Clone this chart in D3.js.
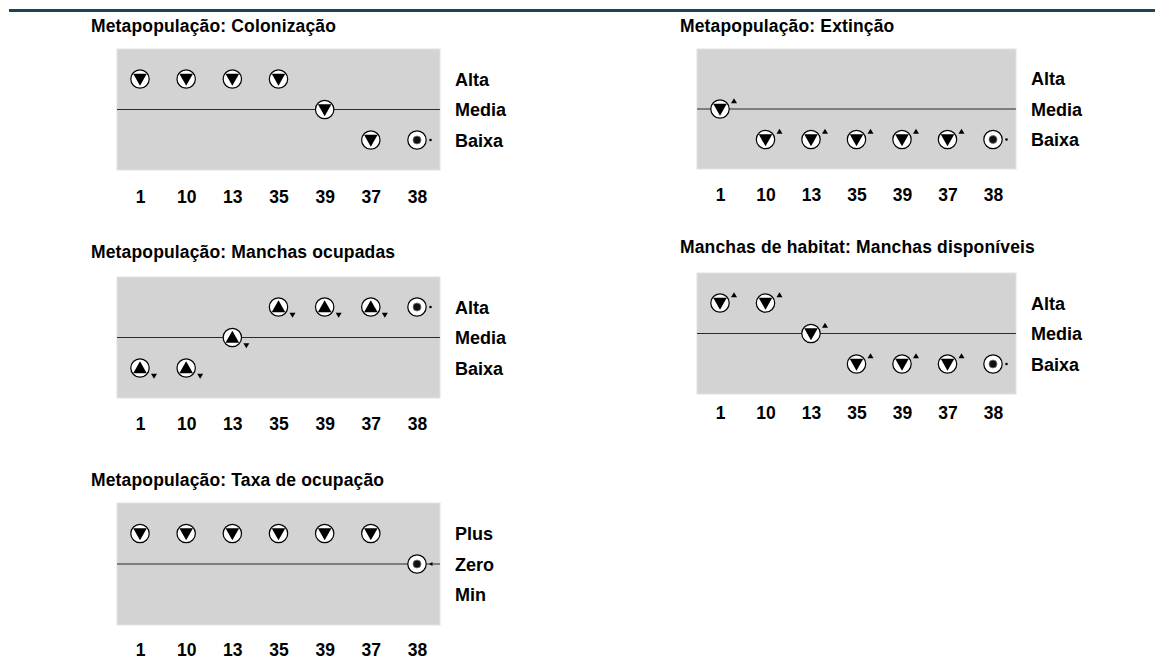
<!DOCTYPE html>
<html>
<head>
<meta charset="utf-8">
<script src="https://cdn.jsdelivr.net/npm/d3@7"></script>
<style>
  html, body { margin: 0; padding: 0; background: #ffffff; }
  svg { display: block; }
</style>
</head>
<body>
<svg id="chart" width="1155" height="662"></svg>
<script>
// ---------- data ----------
const categories = ["1", "10", "13", "35", "39", "37", "38"];
const levelsABM = ["Alta", "Media", "Baixa"];
const levelsPZM = ["Plus", "Zero", "Min"];

const colonizacaoLevel = ["Alta", "Alta", "Alta", "Alta", "Media", "Baixa", "Baixa"];
const colonizacaoSymbol = ["down", "down", "down", "down", "down", "down", "stable"];
const colonizacaoTrend = ["none", "none", "none", "none", "none", "none", "dot"];

const extincaoLevel = ["Media", "Baixa", "Baixa", "Baixa", "Baixa", "Baixa", "Baixa"];
const extincaoSymbol = ["down", "down", "down", "down", "down", "down", "stable"];
const extincaoTrend = ["up", "up", "up", "up", "up", "up", "dot"];

const ocupadasLevel = ["Baixa", "Baixa", "Media", "Alta", "Alta", "Alta", "Alta"];
const ocupadasSymbol = ["up", "up", "up", "up", "up", "up", "stable"];
const ocupadasTrend = ["down", "down", "down", "down", "down", "down", "dot"];

const disponiveisLevel = ["Alta", "Alta", "Media", "Baixa", "Baixa", "Baixa", "Baixa"];
const disponiveisSymbol = ["down", "down", "down", "down", "down", "down", "stable"];
const disponiveisTrend = ["up", "up", "up", "up", "up", "up", "dot"];

const taxaLevel = ["Plus", "Plus", "Plus", "Plus", "Plus", "Plus", "Zero"];
const taxaSymbol = ["down", "down", "down", "down", "down", "down", "stable"];
const taxaTrend = ["none", "none", "none", "none", "none", "none", "left"];

const panelTitles = [
  "Metapopulação: Colonização",
  "Metapopulação: Extinção",
  "Metapopulação: Manchas ocupadas",
  "Manchas de habitat: Manchas disponíveis",
  "Metapopulação: Taxa de ocupação"
];

// ---------- layout ----------
const panels = [
  { title: panelTitles[0], levels: levelsABM, lv: colonizacaoLevel, sym: colonizacaoSymbol, tr: colonizacaoTrend,
    tx: 91, ty: 26, x: 117, y: 49, w: 323, h: 121, ly: 197 },
  { title: panelTitles[1], levels: levelsABM, lv: extincaoLevel, sym: extincaoSymbol, tr: extincaoTrend,
    tx: 680, ty: 26, x: 697, y: 49, w: 319, h: 120, ly: 195 },
  { title: panelTitles[2], levels: levelsABM, lv: ocupadasLevel, sym: ocupadasSymbol, tr: ocupadasTrend,
    tx: 91, ty: 252, x: 117, y: 277, w: 323, h: 121, ly: 424 },
  { title: panelTitles[3], levels: levelsABM, lv: disponiveisLevel, sym: disponiveisSymbol, tr: disponiveisTrend,
    tx: 680, ty: 247, x: 697, y: 273, w: 319, h: 121, ly: 413 },
  { title: panelTitles[4], levels: levelsPZM, lv: taxaLevel, sym: taxaSymbol, tr: taxaTrend,
    tx: 91, ty: 480, x: 117, y: 503, w: 323, h: 122, ly: 650 }
];

const FONT = "'Liberation Sans', Arial, Helvetica, sans-serif";
const svg = d3.select("#chart");

// top rule
svg.append("line")
  .attr("x1", 9).attr("x2", 1155).attr("y1", 10.5).attr("y2", 10.5)
  .attr("stroke", "#1d4452").attr("stroke-width", 3);

panels.forEach(p => {
  const g = svg.append("g");
  const mid = p.y + p.h / 2;
  const xs = d3.scalePoint().domain(categories).range([p.x + 23, p.x + p.w - 23]);
  const ys = d3.scalePoint().domain(p.levels).range([mid - 30.5, mid + 30.5]);

  g.append("text")
    .attr("x", p.tx).attr("y", p.ty).attr("dy", "0.35em")
    .attr("font-family", FONT).attr("font-weight", "bold").attr("font-size", 17.5)
    .attr("letter-spacing", 0.15)
    .attr("fill", "#000").text(p.title);

  g.append("rect")
    .attr("x", p.x).attr("y", p.y).attr("width", p.w).attr("height", p.h)
    .attr("fill", "#d3d3d3").attr("stroke", "#e2e2e2").attr("stroke-width", 1);

  g.append("line")
    .attr("x1", p.x).attr("x2", p.x + p.w)
    .attr("y1", ys(p.levels[1])).attr("y2", ys(p.levels[1]))
    .attr("stroke", "#2a2a2a").attr("stroke-width", 1.2);

  // x axis labels
  const ax = g.append("g").attr("transform", `translate(0,${p.ly})`)
    .call(d3.axisBottom(xs).tickSize(0).tickPadding(0));
  ax.select(".domain").remove();
  ax.selectAll("text").attr("y", 0).attr("dy", "0.35em")
    .attr("font-family", FONT).attr("font-weight", "bold").attr("font-size", 17.5).attr("fill", "#000");

  // level labels
  const ay = g.append("g").attr("transform", `translate(${p.x + p.w},0)`)
    .call(d3.axisRight(ys).tickSize(0).tickPadding(15));
  ay.select(".domain").remove();
  ay.selectAll("text").attr("dy", "0.35em")
    .attr("font-family", FONT).attr("font-weight", "bold").attr("font-size", 18).attr("fill", "#000");

  const pts = categories.map((c, i) => ({ c, lv: p.lv[i], sym: p.sym[i], tr: p.tr[i] }));
  const m = g.selectAll("g.mark").data(pts).join("g")
    .attr("class", "mark")
    .attr("transform", d => `translate(${xs(d.c)},${ys(d.lv)})`);

  m.append("circle").attr("r", 9.2).attr("fill", "#fff").attr("stroke", "#000").attr("stroke-width", 1.2);
  m.filter(d => d.sym === "down").append("path")
    .attr("d", "M-6.8,-5.2 L6.8,-5.2 L0,6.8 Z").attr("fill", "#000");
  m.filter(d => d.sym === "up").append("path")
    .attr("d", "M-6.8,5.2 L6.8,5.2 L0,-6.8 Z").attr("fill", "#000");
  m.filter(d => d.sym === "stable").append("circle")
    .attr("r", 4).attr("fill", "#111").attr("stroke", "#777").attr("stroke-width", 0.8);

  m.filter(d => d.tr === "up").append("path")
    .attr("d", "M11,-5.7 L17,-5.7 L14,-10.7 Z").attr("fill", "#000");
  m.filter(d => d.tr === "down").append("path")
    .attr("d", "M11,5.7 L17,5.7 L14,10.7 Z").attr("fill", "#000");
  m.filter(d => d.tr === "dot").append("circle")
    .attr("cx", 13.5).attr("cy", 0).attr("r", 1.3).attr("fill", "#000");
  m.filter(d => d.tr === "left").append("path")
    .attr("d", "M12,0 L15.5,-2 L15.5,2 Z").attr("fill", "#000");
});
</script>
</body>
</html>
